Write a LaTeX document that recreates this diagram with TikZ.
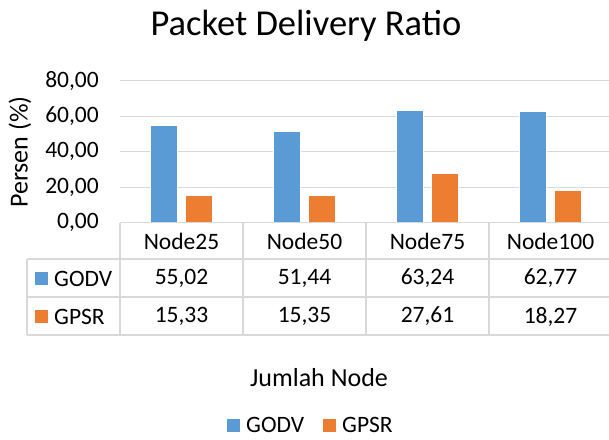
\documentclass[tikz,border=0pt]{standalone}
\usepackage{fontspec}
\setmainfont{Carlito}
\definecolor{godv}{HTML}{5B9BD5}
\definecolor{gpsr}{HTML}{ED7D31}
\definecolor{gridc}{HTML}{D9D9D9}
\newcommand{\ticksize}{\fontsize{23.5}{28}\selectfont}
\newcommand{\axsize}{\fontsize{26}{31}\selectfont}
\newcommand{\titsize}{\fontsize{36.5}{44}\selectfont}
\begin{document}
\begin{tikzpicture}[x=1pt,y=-1pt,
  gridline/.style={draw=gridc,line width=1.4pt},
  tick/.style={anchor=east,inner sep=0pt,font=\ticksize},
  celltext/.style={inner sep=0pt,font=\ticksize},
  barblue/.style={fill=godv,draw=white,line width=0.6pt},
  barorange/.style={fill=gpsr,draw=white,line width=0.6pt},
  keybox/.style={minimum size=13pt,inner sep=0pt}]
\useasboundingbox (0,0) rectangle (609,439);
% title
\node[inner sep=0pt,font=\titsize] (title) at (306,26) {Packet Delivery Ratio};
% gridlines and ticks
\foreach \v in {20,40,60,80}{
  \draw[gridline] (120,{222.7-1.775*\v}) -- (612,{222.7-1.775*\v});
}
\foreach \v/\lab [count=\k] in {0/{0,00},20/{20,00},40/{40,00},60/{60,00},80/{80,00}}{
  \node[tick] (tick\k) at (99,{222.7-1.775*\v}) {\lab};
}
% y axis title
\node[rotate=90,inner sep=0pt,font=\axsize] (ytitle) at (20,152) {Persen (\%)};
% bars
\foreach \i/\a/\b in {0/55.02/15.33,1/51.44/15.35,2/63.24/27.61,3/62.77/18.27}{
  \pgfmathsetmacro{\c}{181.5+123*\i}
  \fill[barblue] ({\c-31},222.7) rectangle ({\c-4},{222.7-1.775*\a});
  \fill[barorange] ({\c+4},222.7) rectangle ({\c+31},{222.7-1.775*\b});
}
% table lines
\draw[gridline] (120,222.7) -- (612,222.7);
\draw[gridline] (27,259) -- (612,259);
\draw[gridline] (27,297) -- (612,297);
\draw[gridline] (27,335) -- (612,335);
\draw[gridline] (27,259) -- (27,335);
\foreach \xx in {120,243,366,489}{
  \draw[gridline] (\xx,222.7) -- (\xx,335);
}
% table contents
\foreach \i/\nm/\a/\b in {0/Node25/{55,02}/{15,33},1/Node50/{51,44}/{15,35},2/Node75/{63,24}/{27,61},3/Node100/{62,77}/{18,27}}{
  \pgfmathsetmacro{\c}{181.5+123*\i}
  \node[celltext] (hd\i) at (\c,241) {\nm};
  \node[celltext] (va\i) at (\c,278.5) {\a};
  \node[celltext] (vb\i) at (\c,316.5) {\b};
}
\node[keybox,fill=godv] (tkA) at (41.5,278) {};
\node[celltext,anchor=west] (tlA) at (54,278.5) {GODV};
\node[keybox,fill=gpsr] (tkB) at (41.5,316) {};
\node[celltext,anchor=west] (tlB) at (54,316.5) {GPSR};
% x axis title
\node[inner sep=0pt,font=\axsize] (xtitle) at (319,378) {Jumlah Node};
% legend
\node[keybox,fill=godv] (lkA) at (233.5,425.5) {};
\node[celltext,anchor=west] (llA) at (246,425) {GODV};
\node[keybox,fill=gpsr] (lkB) at (329.5,425.5) {};
\node[celltext,anchor=west] (llB) at (342,425) {GPSR};
\end{tikzpicture}
\end{document}
